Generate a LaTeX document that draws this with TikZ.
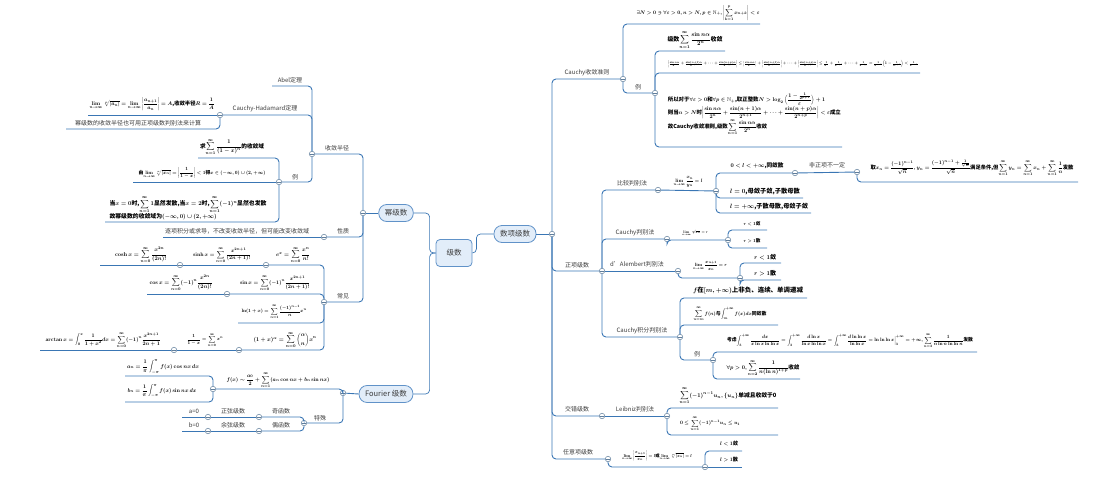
\documentclass[tikz,border=0pt]{standalone}
\usepackage{amsmath}
\usepackage{amssymb}
\usepackage{graphicx}
\usepackage[no-math]{fontspec}
\setmainfont{Noto Sans CJK SC}
\usepackage{tikz}
\usetikzlibrary{positioning}
\definecolor{linec}{RGB}{58,118,180}
\definecolor{dotc}{RGB}{95,125,155}
\definecolor{topicfill}{RGB}{226,237,249}
\definecolor{topicdraw}{RGB}{96,146,200}
\definecolor{txt}{RGB}{60,60,60}
\tikzset{every picture/.style={line width=0.75pt}}
% formula scaled to the width it has in the map
\newcommand{\fit}[2]{\resizebox{#1pt}{!}{#2}}
\newcommand{\rows}[1]{\begin{tabular}{@{}l@{}}#1\end{tabular}}
\begin{document}
\begin{tikzpicture}[x=1pt,y=-1pt,
  br/.style={draw=linec,line width=0.9pt,rounded corners=4pt},
  dot/.style={circle,draw=dotc,fill=white,line width=0.5pt,inner sep=0pt,minimum size=5.5pt,
    path picture={\draw[dotc,line width=0.5pt] ([xshift=-1.6pt]path picture bounding box.center) -- ([xshift=1.6pt]path picture bounding box.center);}},
  topic/.style={draw=topicdraw,fill=topicfill,rounded corners=8pt,line width=0.8pt,minimum height=17pt,inner xsep=6pt,font=\fontsize{7.5}{8}\selectfont,text=txt},
  rootbox/.style={topic,rounded corners=4pt,minimum width=36pt,minimum height=27pt},
  lab/.style={font=\fontsize{6}{7}\selectfont,text=txt,inner sep=0.5pt},
  fml/.style={font=\bfseries\boldmath,inner sep=0.5pt}]
\useasboundingbox (0,0) rectangle (1113,482);
\node[rootbox] (series) at (454,253) {级数};
\node[topic] (power) at (396,213) {幂级数};
\node[topic] (numser) at (515,234) {数项级数};
\node[topic] (fourier) at (386,394) {Fourier 级数};
\draw[br,line width=0.7pt] (series.west) -- ++(-6,0) |- (power.east);
\draw[br,line width=0.7pt] (series.west) -- ++(-6,0) |- (fourier.east);
\draw[br,line width=0.7pt] (series.east) -- ++(4,0) |- (numser.west);
%
% power series
\node[dot] (pw) at (363,213) {};
\node[dot] (rad) at (312,154) {};
\node[dot] (prop) at (324,237) {};
\node[dot] (common) at (324,302) {};
\draw[br] (power.west) -- (pw);
\draw[br] (pw) |- (rad);
\draw[br] (pw) |- (prop);
\draw[br] (pw) |- (common);
\node[lab] (tradius) at (337,148) {收敛半径};
\node[lab] (tprop) at (343,231) {性质};
\node[lab] (tcommon) at (343,296) {常见};
%
\coordinate (abelL) at (272,86);
\node[dot] (ch) at (220,115) {};
\node[dot] (ex1) at (279,182) {};
\draw[br] (rad) |- (abelL);
\draw[br] (rad) |- (ch);
\draw[br] (rad) |- (ex1);
\node[lab] (tabel) at (290,80) {Abel定理};
\node[lab] (tch) at (265,109) {Cauchy-Hadamard定理};
\node[lab] (tex1) at (295,177) {例};
%
\coordinate (chA) at (88,115);
\coordinate (chB) at (66,129);
\draw[br] (ch) -- (chA);
\draw[br] (ch) |- (chB);
\node[fml] (fch) at (152,104) {\fit{125}{$\lim\limits_{n\to\infty}\sqrt[n]{|a_n|}=\lim\limits_{n\to\infty}\left|\dfrac{a_{n+1}}{a_n}\right|=A$,收敛半径$R=\dfrac{1}{A}$}};
\node[lab] (tcalc) at (138,123) {幂级数的收敛半径也可用正项级数判别法来计算};
%
\coordinate (q1) at (198,158);
\coordinate (q2) at (133,182);
\coordinate (q3) at (105,222);
\draw[br] (ex1) |- (q1);
\draw[br] (ex1) -- (q2);
\draw[br] (ex1) |- (q3);
\node[fml] (fq1) at (232,147) {\fit{64}{求$\displaystyle\sum_{n=1}^{\infty}\frac{1}{(1-x)^n}$的收敛域}};
\node[fml] (fq2) at (202,173) {\fit{127}{由$\lim\limits_{n\to\infty}\sqrt[n]{|x_n|}=\left|\dfrac{1}{1-x}\right|<1$得$x\in(-\infty,0)\cup(2,+\infty)$}};
\node[fml] (fq3) at (188,208) {\fit{157}{\rows{当$x=0$时,$\displaystyle\sum_{n=1}^{\infty}1$显然发散,当$x=2$时,$\displaystyle\sum_{n=1}^{\infty}(-1)^n$显然也发散\\故幂级数的收敛域为$(-\infty,0)\cup(2,+\infty)$}}};
%
\coordinate (propL) at (163,237);
\draw[br] (prop) -- (propL);
\node[lab] (tterm) at (237,231) {逐项积分或求导，不改变收敛半径，但可能改变收敛域};
%
\node[dot] (cexp) at (266,265) {};
\node[dot] (csinh) at (180,265) {};
\coordinate (ccosh) at (100,265);
\node[dot] (csin) at (227,294) {};
\coordinate (ccos) at (147,294);
\coordinate (cln) at (238,323);
\node[dot] (cbin) at (239,350) {};
\node[dot] (cgeo) at (174,350) {};
\coordinate (catan) at (40,350);
\draw[br] (common) |- (cexp);
\draw[br] (cexp) -- (csinh);
\draw[br] (csinh) -- (ccosh);
\draw[br] (common) |- (csin);
\draw[br] (csin) -- (ccos);
\draw[br] (common) |- (cln);
\draw[br] (common) |- (cbin);
\draw[br] (cbin) -- (cgeo);
\draw[br] (cgeo) -- (catan);
\node[fml] (fcosh) at (141,255) {\fit{52}{$\cosh x=\displaystyle\sum_{n=0}^{\infty}\frac{x^{2n}}{(2n)!}$}};
\node[fml] (fsinh) at (222,255) {\fit{58}{$\sinh x=\displaystyle\sum_{n=0}^{\infty}\frac{x^{2n+1}}{(2n+1)!}$}};
\node[fml] (fexp) at (293,255) {\fit{34}{$e^x=\displaystyle\sum_{n=0}^{\infty}\frac{x^n}{n!}$}};
\node[fml] (fcos) at (181,283) {\fit{63}{$\cos x=\displaystyle\sum_{n=0}^{\infty}(-1)^n\frac{x^{2n}}{(2n)!}$}};
\node[fml] (fsin) at (275,283) {\fit{70}{$\sin x=\displaystyle\sum_{n=0}^{\infty}(-1)^n\frac{x^{2n+1}}{(2n+1)!}$}};
\node[fml] (fln) at (274,312) {\fit{65}{$\ln(1+x)=\displaystyle\sum_{n=1}^{\infty}\frac{(-1)^{n-1}}{n}x^n$}};
\node[fml] (fatan) at (103,340) {\fit{115}{$\arctan x=\displaystyle\int_0^x\frac{1}{1+x^2}dx=\sum_{n=0}^{\infty}(-1)^n\frac{x^{2n+1}}{2n+1}$}};
\node[fml] (fgeo) at (205,340) {\fit{36}{$\dfrac{1}{1-x}=\displaystyle\sum_{n=0}^{\infty}x^n$}};
\node[fml] (fbin) at (285,340) {\fit{63}{$(1+x)^\alpha=\displaystyle\sum_{n=0}^{\infty}\binom{\alpha}{n}x^n$}};
%
% fourier series
\node[dot] (fo) at (343,393) {};
\node[dot] (ff) at (213,389) {};
\node[dot] (fs) at (304,423) {};
\coordinate (fa) at (125,376);
\coordinate (fb) at (125,402);
\draw[br] (fourier.west) -- (fo);
\draw[br] (fo) |- (ff);
\draw[br] (fo) |- (fs);
\draw[br] (ff) |- (fa);
\draw[br] (ff) |- (fb);
\node[fml] (ffx) at (278,380) {\fit{103}{$f(x)\sim\dfrac{a_0}{2}+\displaystyle\sum_{n=1}^{\infty}(a_n\cos nx+b_n\sin nx)$}};
\node[fml] (fan) at (163,367) {\fit{72}{$a_n=\dfrac{1}{\pi}\displaystyle\int_{-\pi}^{\pi}f(x)\cos nx\,dx$}};
\node[fml] (fbn) at (162,391) {\fit{69}{$b_n=\dfrac{1}{\pi}\displaystyle\int_{-\pi}^{\pi}f(x)\sin nx\,dx$}};
\node[lab] (tspec) at (320,418) {特殊};
%
\node[dot] (odd) at (259,417) {};
\node[dot] (sine) at (208,417) {};
\coordinate (azero) at (182,417);
\node[dot] (even) at (259,431) {};
\node[dot] (cosine) at (208,431) {};
\coordinate (bzero) at (182,431);
\draw[br] (fs) |- (odd);
\draw[br] (odd) -- (sine);
\draw[br] (sine) -- (azero);
\draw[br] (fs) |- (even);
\draw[br] (even) -- (cosine);
\draw[br] (cosine) -- (bzero);
\node[lab] (todd) at (281,411) {奇函数};
\node[lab] (tsine) at (233,411) {正弦级数};
\node[lab] (tazero) at (194,411) {a=0};
\node[lab] (teven) at (281,425) {偶函数};
\node[lab] (tcosine) at (233,425) {余弦级数};
\node[lab] (tbzero) at (194,425) {b=0};
%
% numerical series
\node[dot] (ns) at (552,234) {};
\draw[br] (numser.east) -- (ns);
\node[dot] (cc) at (623,79) {};
\node[dot] (pos) at (602,271) {};
\node[dot] (alt) at (602,416) {};
\node[dot] (arb) at (608,459) {};
\draw[br] (ns) |- (cc);
\draw[br] (ns) |- (pos);
\draw[br] (ns) |- (alt);
\draw[br] (ns) |- (arb);
\node[lab] (tcc) at (587,73) {Cauchy收敛准则};
\node[lab] (tpos) at (577,265) {正项级数};
\node[lab] (talt) at (577,409) {交错级数};
\node[lab] (tarb) at (578,452) {任意项级数};
%
\coordinate (ccR) at (760,24);
\node[dot] (ex2) at (655,93) {};
\draw[br] (cc) |- (ccR);
\draw[br] (cc) |- (ex2);
\node[lab] (tex2) at (638,87) {例};
\node[fml] (fcc) at (698,13) {\fit{123}{$\exists N>0\ni\forall\varepsilon>0,n>N,p\in\mathbb{N}_+,\left|\displaystyle\sum_{k=1}^{p}x_{n+k}\right|<\varepsilon$}};
\coordinate (e1) at (725,51);
\coordinate (e2) at (920,73);
\coordinate (e3) at (842,147);
\draw[br] (ex2) |- (e1);
\draw[br] (ex2) |- (e2);
\draw[br] (ex2) |- (e3);
\node[fml] (fe1) at (695,40) {\fit{55}{级数$\displaystyle\sum_{n=1}^{\infty}\frac{\sin n\alpha}{2^n}$收敛}};
\node[fml] (fe2) at (793,64) {\fit{250}{$\left|\frac{\sin n\alpha}{2^n}+\frac{\sin(n+1)\alpha}{2^{n+1}}+\cdots+\frac{\sin(n+p)\alpha}{2^{n+p}}\right|\le\left|\frac{\sin n\alpha}{2^n}\right|+\left|\frac{\sin(n+1)\alpha}{2^{n+1}}\right|+\cdots+\left|\frac{\sin(n+p)\alpha}{2^{n+p}}\right|\le\frac{1}{2^n}+\frac{1}{2^{n+1}}+\cdots+\frac{1}{2^{n+p}}=\frac{1}{2^{n-1}}\Big(1-\frac{1}{2^{p+1}}\Big)<\frac{1}{2^{n-1}}$}};
\node[fml,anchor=west] (fe3) at (667,114) {\fit{173}{\rows{所以对于$\forall\varepsilon>0$和$\forall p\in\mathbb{N}_+$,取正整数$N>\log_2\Big(\dfrac{1-\frac{1}{2^{p+1}}}{\varepsilon}\Big)+1$\\[2pt]则当$n>N$时$\left|\dfrac{\sin n\alpha}{2^n}+\dfrac{\sin(n+1)\alpha}{2^{n+1}}+\cdots+\dfrac{\sin(n+p)\alpha}{2^{n+p}}\right|<\varepsilon$成立\\[2pt]故Cauchy收敛准则,级数$\displaystyle\sum_{n=1}^{\infty}\frac{\sin n\alpha}{2^n}$收敛}}};
%
\node[dot] (cmp) at (658,190) {};
\node[dot] (cau) at (667,239) {};
\node[dot] (dal) at (678,271) {};
\node[dot] (intg) at (680,337) {};
\draw[br] (pos) |- (cmp);
\draw[br] (pos) |- (cau);
\draw[br] (pos) -- (dal);
\draw[br] (pos) |- (intg);
\node[lab] (tcmp) at (632,183) {比较判别法};
\node[lab] (tcau) at (635,233) {Cauchy判别法};
\node[lab] (tdal) at (637,264) {d'Alembert判别法};
\node[lab] (tintg) at (642,331) {Cauchy积分判别法};
%
\node[dot] (lim1) at (716,191) {};
\draw[br] (cmp) -- (lim1);
\node[fml] (flim1) at (688,182) {\fit{29}{$\lim\limits_{n\to\infty}\dfrac{x_n}{y_n}=l$}};
\node[dot] (same) at (795,173) {};
\node[dot] (notpos) at (857,172) {};
\coordinate (cex) at (1078,182);
\coordinate (l0) at (803,198);
\coordinate (linf) at (811,213);
\draw[br] (lim1) |- (same);
\draw[br] (same) -- (notpos);
\draw[br] (notpos) |- (cex);
\draw[br] (lim1) |- (l0);
\draw[br] (lim1) |- (linf);
\node[fml] (fsame) at (757,166) {\fit{53}{$0<l<+\infty$,同敛散}};
\node[lab] (tnotpos) at (827,165) {非正项不一定};
\node[fml] (fcex) at (972,168) {\fit{203}{取$x_n=\dfrac{(-1)^{n-1}}{\sqrt{n}},y_n=\dfrac{(-1)^{n-1}+\frac{1}{\sqrt{n}}}{\sqrt{n}}$满足条件,但$\displaystyle\sum_{n=1}^{\infty}y_n=\sum_{n=1}^{\infty}x_n+\sum_{n=1}^{\infty}\frac{1}{n}$发散}};
\node[fml] (fl0) at (765,192) {\fit{70}{$l=0$,母敛子敛,子散母散}};
\node[fml] (flinf) at (769,207) {\fit{78}{$l=+\infty$,子散母散,母敛子敛}};
%
\node[dot] (root) at (728,240) {};
\coordinate (r1) at (767,230);
\coordinate (r2) at (767,248);
\draw[br] (cau) |- (root);
\draw[br] (root) |- (r1);
\draw[br] (root) |- (r2);
\node[fml] (froot) at (695,233) {\fit{26}{$\lim\limits_{n\to\infty}\sqrt[n]{x_n}=r$}};
\node[fml] (fr1) at (752,224) {\fit{17}{$r<1$敛}};
\node[fml] (fr2) at (752,241) {\fit{17}{$r>1$散}};
%
\node[dot] (ratio) at (740,278) {};
\coordinate (d1) at (781,263);
\coordinate (d2) at (781,280);
\draw[br] (dal) |- (ratio);
\draw[br] (ratio) |- (d1);
\draw[br] (ratio) |- (d2);
\node[fml] (fratio) at (710,266) {\fit{34}{$\lim\limits_{n\to\infty}\dfrac{x_{n+1}}{x_n}=r$}};
\node[fml] (fd1) at (765,257) {\fit{22}{$r<1$敛}};
\node[fml] (fd2) at (765,273) {\fit{22}{$r>1$散}};
%
\node[dot] (ex3) at (713,360) {};
\coordinate (i1) at (807,298);
\coordinate (i2) at (778,325);
\draw[br] (intg) |- (i1);
\draw[br] (intg) |- (i2);
\draw[br] (intg) |- (ex3);
\node[lab] (tex3) at (697,354) {例};
\node[fml] (fi1) at (748,291) {\fit{110}{$f$在$[m,+\infty)$上非负、连续、单调递减}};
\node[fml] (fi2) at (730,314) {\fit{73}{$\displaystyle\sum_{n=m}^{\infty}f(n)$与$\displaystyle\int_m^{+\infty}f(x)dx$同敛散}};
\coordinate (x1) at (977,352);
\coordinate (x2) at (800,379);
\draw[br] (ex3) |- (x1);
\draw[br] (ex3) |- (x2);
\node[fml] (fx1) at (850,341) {\fit{246}{考虑$\displaystyle\int_3^{+\infty}\frac{dx}{x\ln x\ln\ln x}=\int_3^{+\infty}\frac{d\ln x}{\ln x\ln\ln x}=\int_3^{+\infty}\frac{d\ln\ln x}{\ln\ln x}=\ln\ln\ln x\Big|_3^{+\infty}=+\infty,\sum_{n=3}^{\infty}\frac{1}{n\ln n\ln\ln n}$发散}};
\node[fml] (fx2) at (763,368) {\fit{73}{$\forall p>0,\displaystyle\sum_{n=2}^{\infty}\frac{1}{n(\ln n)^{1+p}}$收敛}};
%
\node[dot] (leib) at (667,416) {};
\coordinate (lb1) at (778,408);
\coordinate (lb2) at (778,435);
\draw[br] (alt) -- (leib);
\draw[br] (leib) |- (lb1);
\draw[br] (leib) |- (lb2);
\node[lab] (tleib) at (635,409) {Leibniz判别法};
\node[fml] (flb1) at (728,396) {\fit{97}{$\displaystyle\sum_{n=1}^{\infty}(-1)^{n-1}u_n,\{u_n\}$单减且收敛于0}};
\node[fml] (flb2) at (710,424) {\fit{60}{$0\le\displaystyle\sum_{n=1}^{\infty}(-1)^{n-1}u_n\le u_1$}};
%
\node[dot] (arbl) at (705,467) {};
\coordinate (a1) at (742,451);
\coordinate (a2) at (742,467);
\draw[br] (arb) |- (arbl);
\draw[br] (arbl) |- (a1);
\draw[br] (arbl) -- (a2);
\node[fml] (farb) at (657,456) {\fit{70}{$\lim\limits_{n\to\infty}\left|\dfrac{x_{n+1}}{x_n}\right|=l$或$\lim\limits_{n\to\infty}\sqrt[n]{|x_n|}=l$}};
\node[fml] (fa1) at (729,444) {\fit{18}{$l<1$敛}};
\node[fml] (fa2) at (729,460) {\fit{18}{$l>1$散}};
\end{tikzpicture}
\end{document}
